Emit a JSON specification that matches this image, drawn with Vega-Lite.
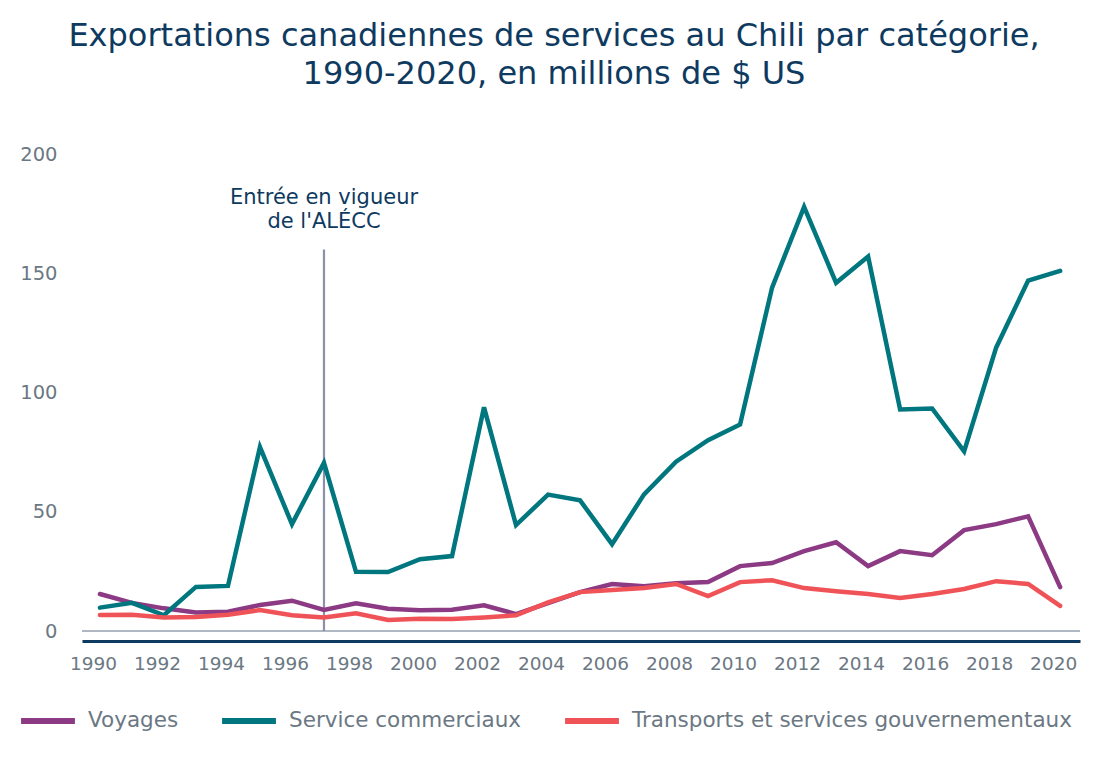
{
  "$schema": "https://vega.github.io/schema/vega-lite/v6.json",
  "autosize": {"type": "none"},
  "width": 998,
  "height": 477,
  "padding": {"left": 82, "top": 154, "right": 29, "bottom": 131},
  "background": "white",
  "config": {"view": {"stroke": null}, "font": "DejaVu Sans"},
  "title": {
    "text": ["Exportations canadiennes de services au Chili par catégorie,", "1990-2020, en millions de $ US"],
    "anchor": "middle",
    "fontSize": 32,
    "fontWeight": "normal",
    "color": "#0e3a5f",
    "font": "DejaVu Sans",
    "lineHeight": 38,
    "offset": 53,
    "dx": -27
  },
  "datasets": {
    "series": [
      {"year": 1990, "Voyages": 15.5, "Service commerciaux": 9.8, "Transports et services gouvernementaux": 6.7},
      {"year": 1991, "Voyages": 11.8, "Service commerciaux": 11.8, "Transports et services gouvernementaux": 6.8},
      {"year": 1992, "Voyages": 9.5, "Service commerciaux": 6.6, "Transports et services gouvernementaux": 5.7},
      {"year": 1993, "Voyages": 7.8, "Service commerciaux": 18.5, "Transports et services gouvernementaux": 5.9},
      {"year": 1994, "Voyages": 8.1, "Service commerciaux": 18.9, "Transports et services gouvernementaux": 6.8},
      {"year": 1995, "Voyages": 10.9, "Service commerciaux": 77.1, "Transports et services gouvernementaux": 8.8},
      {"year": 1996, "Voyages": 12.7, "Service commerciaux": 44.8, "Transports et services gouvernementaux": 6.6},
      {"year": 1997, "Voyages": 8.8, "Service commerciaux": 70.5, "Transports et services gouvernementaux": 5.7},
      {"year": 1998, "Voyages": 11.6, "Service commerciaux": 24.8, "Transports et services gouvernementaux": 7.4},
      {"year": 1999, "Voyages": 9.3, "Service commerciaux": 24.7, "Transports et services gouvernementaux": 4.6},
      {"year": 2000, "Voyages": 8.7, "Service commerciaux": 30.1, "Transports et services gouvernementaux": 5.1},
      {"year": 2001, "Voyages": 8.9, "Service commerciaux": 31.4, "Transports et services gouvernementaux": 5.0},
      {"year": 2002, "Voyages": 10.8, "Service commerciaux": 93.8, "Transports et services gouvernementaux": 5.7},
      {"year": 2003, "Voyages": 7.1, "Service commerciaux": 44.4, "Transports et services gouvernementaux": 6.6},
      {"year": 2004, "Voyages": 11.7, "Service commerciaux": 57.2, "Transports et services gouvernementaux": 12.0},
      {"year": 2005, "Voyages": 16.3, "Service commerciaux": 54.8, "Transports et services gouvernementaux": 16.3},
      {"year": 2006, "Voyages": 19.7, "Service commerciaux": 36.4, "Transports et services gouvernementaux": 17.2},
      {"year": 2007, "Voyages": 18.8, "Service commerciaux": 57.3, "Transports et services gouvernementaux": 18.0},
      {"year": 2008, "Voyages": 20.0, "Service commerciaux": 71.0, "Transports et services gouvernementaux": 19.7},
      {"year": 2009, "Voyages": 20.5, "Service commerciaux": 80.0, "Transports et services gouvernementaux": 14.6},
      {"year": 2010, "Voyages": 27.2, "Service commerciaux": 86.6, "Transports et services gouvernementaux": 20.5},
      {"year": 2011, "Voyages": 28.5, "Service commerciaux": 144.0, "Transports et services gouvernementaux": 21.3},
      {"year": 2012, "Voyages": 33.5, "Service commerciaux": 177.8, "Transports et services gouvernementaux": 18.0},
      {"year": 2013, "Voyages": 37.2, "Service commerciaux": 146.0, "Transports et services gouvernementaux": 16.7},
      {"year": 2014, "Voyages": 27.2, "Service commerciaux": 157.0, "Transports et services gouvernementaux": 15.5},
      {"year": 2015, "Voyages": 33.5, "Service commerciaux": 92.9, "Transports et services gouvernementaux": 13.8},
      {"year": 2016, "Voyages": 31.8, "Service commerciaux": 93.3, "Transports et services gouvernementaux": 15.5},
      {"year": 2017, "Voyages": 42.3, "Service commerciaux": 75.3, "Transports et services gouvernementaux": 17.6},
      {"year": 2018, "Voyages": 44.8, "Service commerciaux": 118.8, "Transports et services gouvernementaux": 20.9},
      {"year": 2019, "Voyages": 48.1, "Service commerciaux": 146.9, "Transports et services gouvernementaux": 19.7},
      {"year": 2020, "Voyages": 18.4, "Service commerciaux": 151.0, "Transports et services gouvernementaux": 10.5}
    ],
    "baseline": [{"y": 0}],
    "event": [{"year": 1997, "top": 160, "bottom": 0}],
    "note": [
      {"year": 1997, "y": 181.5, "label": "Entrée en vigueur\nde l'ALÉCC"}
    ]
  },
  "layer": [
    {
      "data": {"name": "baseline"},
      "mark": {"type": "rule", "color": "#5f7187", "strokeWidth": 1},
      "encoding": {"y": {"field": "y", "type": "quantitative", "scale": {"domain": [0, 200]}}}
    },
    {
      "data": {"name": "event"},
      "mark": {"type": "rule", "color": "#8c90a8", "strokeWidth": 2.2},
      "encoding": {
        "x": {"field": "year", "type": "quantitative"},
        "y": {"field": "top", "type": "quantitative"},
        "y2": {"field": "bottom"}
      }
    },
    {
      "data": {"name": "note"},
      "mark": {"type": "text", "color": "#0e3a5f", "fontSize": 21, "font": "DejaVu Sans", "align": "center", "baseline": "middle", "lineBreak": "\n", "lineHeight": 24},
      "encoding": {
        "x": {"field": "year", "type": "quantitative"},
        "y": {"field": "y", "type": "quantitative"},
        "text": {"field": "label", "type": "nominal"}
      }
    },
    {
      "data": {"name": "series"},
      "transform": [
        {"fold": ["Voyages", "Service commerciaux", "Transports et services gouvernementaux"], "as": ["categorie", "valeur"]}
      ],
      "mark": {"type": "line", "strokeWidth": 4.5, "strokeJoin": "miter", "strokeCap": "round"},
      "encoding": {
        "x": {
          "field": "year",
          "type": "quantitative",
          "scale": {"domain": [1989.44, 2020.62], "nice": false, "zero": false},
          "axis": {
            "values": [1990, 1992, 1994, 1996, 1998, 2000, 2002, 2004, 2006, 2008, 2010, 2012, 2014, 2016, 2018, 2020],
            "format": "d",
            "title": null,
            "grid": false,
            "ticks": false,
            "domain": true,
            "domainColor": "#0e3a5f",
            "domainWidth": 3,
            "offset": 10,
            "labelPadding": 13,
            "labelOffset": -7,
            "labelFontSize": 18.5,
            "labelColor": "#6b7883",
            "labelFont": "DejaVu Sans"
          }
        },
        "y": {
          "field": "valeur",
          "type": "quantitative",
          "scale": {"domain": [0, 200], "nice": false},
          "axis": {
            "values": [0, 50, 100, 150, 200],
            "title": null,
            "grid": false,
            "ticks": false,
            "domain": false,
            "labelPadding": 25,
            "labelFontSize": 19.5,
            "labelColor": "#6b7883",
            "labelFont": "DejaVu Sans"
          }
        },
        "color": {
          "field": "categorie",
          "type": "nominal",
          "sort": ["Voyages", "Service commerciaux", "Transports et services gouvernementaux"],
          "scale": {
            "domain": ["Voyages", "Service commerciaux", "Transports et services gouvernementaux"],
            "range": ["#8b3a83", "#00767f", "#f05357"]
          },
          "legend": {
            "orient": "none",
            "direction": "horizontal",
            "legendX": -64,
            "legendY": 537,
            "title": null,
            "symbolType": "stroke",
            "symbolSize": 2900,
            "symbolStrokeWidth": 6,
            "labelFontSize": 21.5,
            "labelColor": "#6b7883",
            "labelFont": "DejaVu Sans",
            "labelOffset": 10,
            "columnPadding": 31,
            "labelLimit": 600
          }
        }
      }
    }
  ]
}
